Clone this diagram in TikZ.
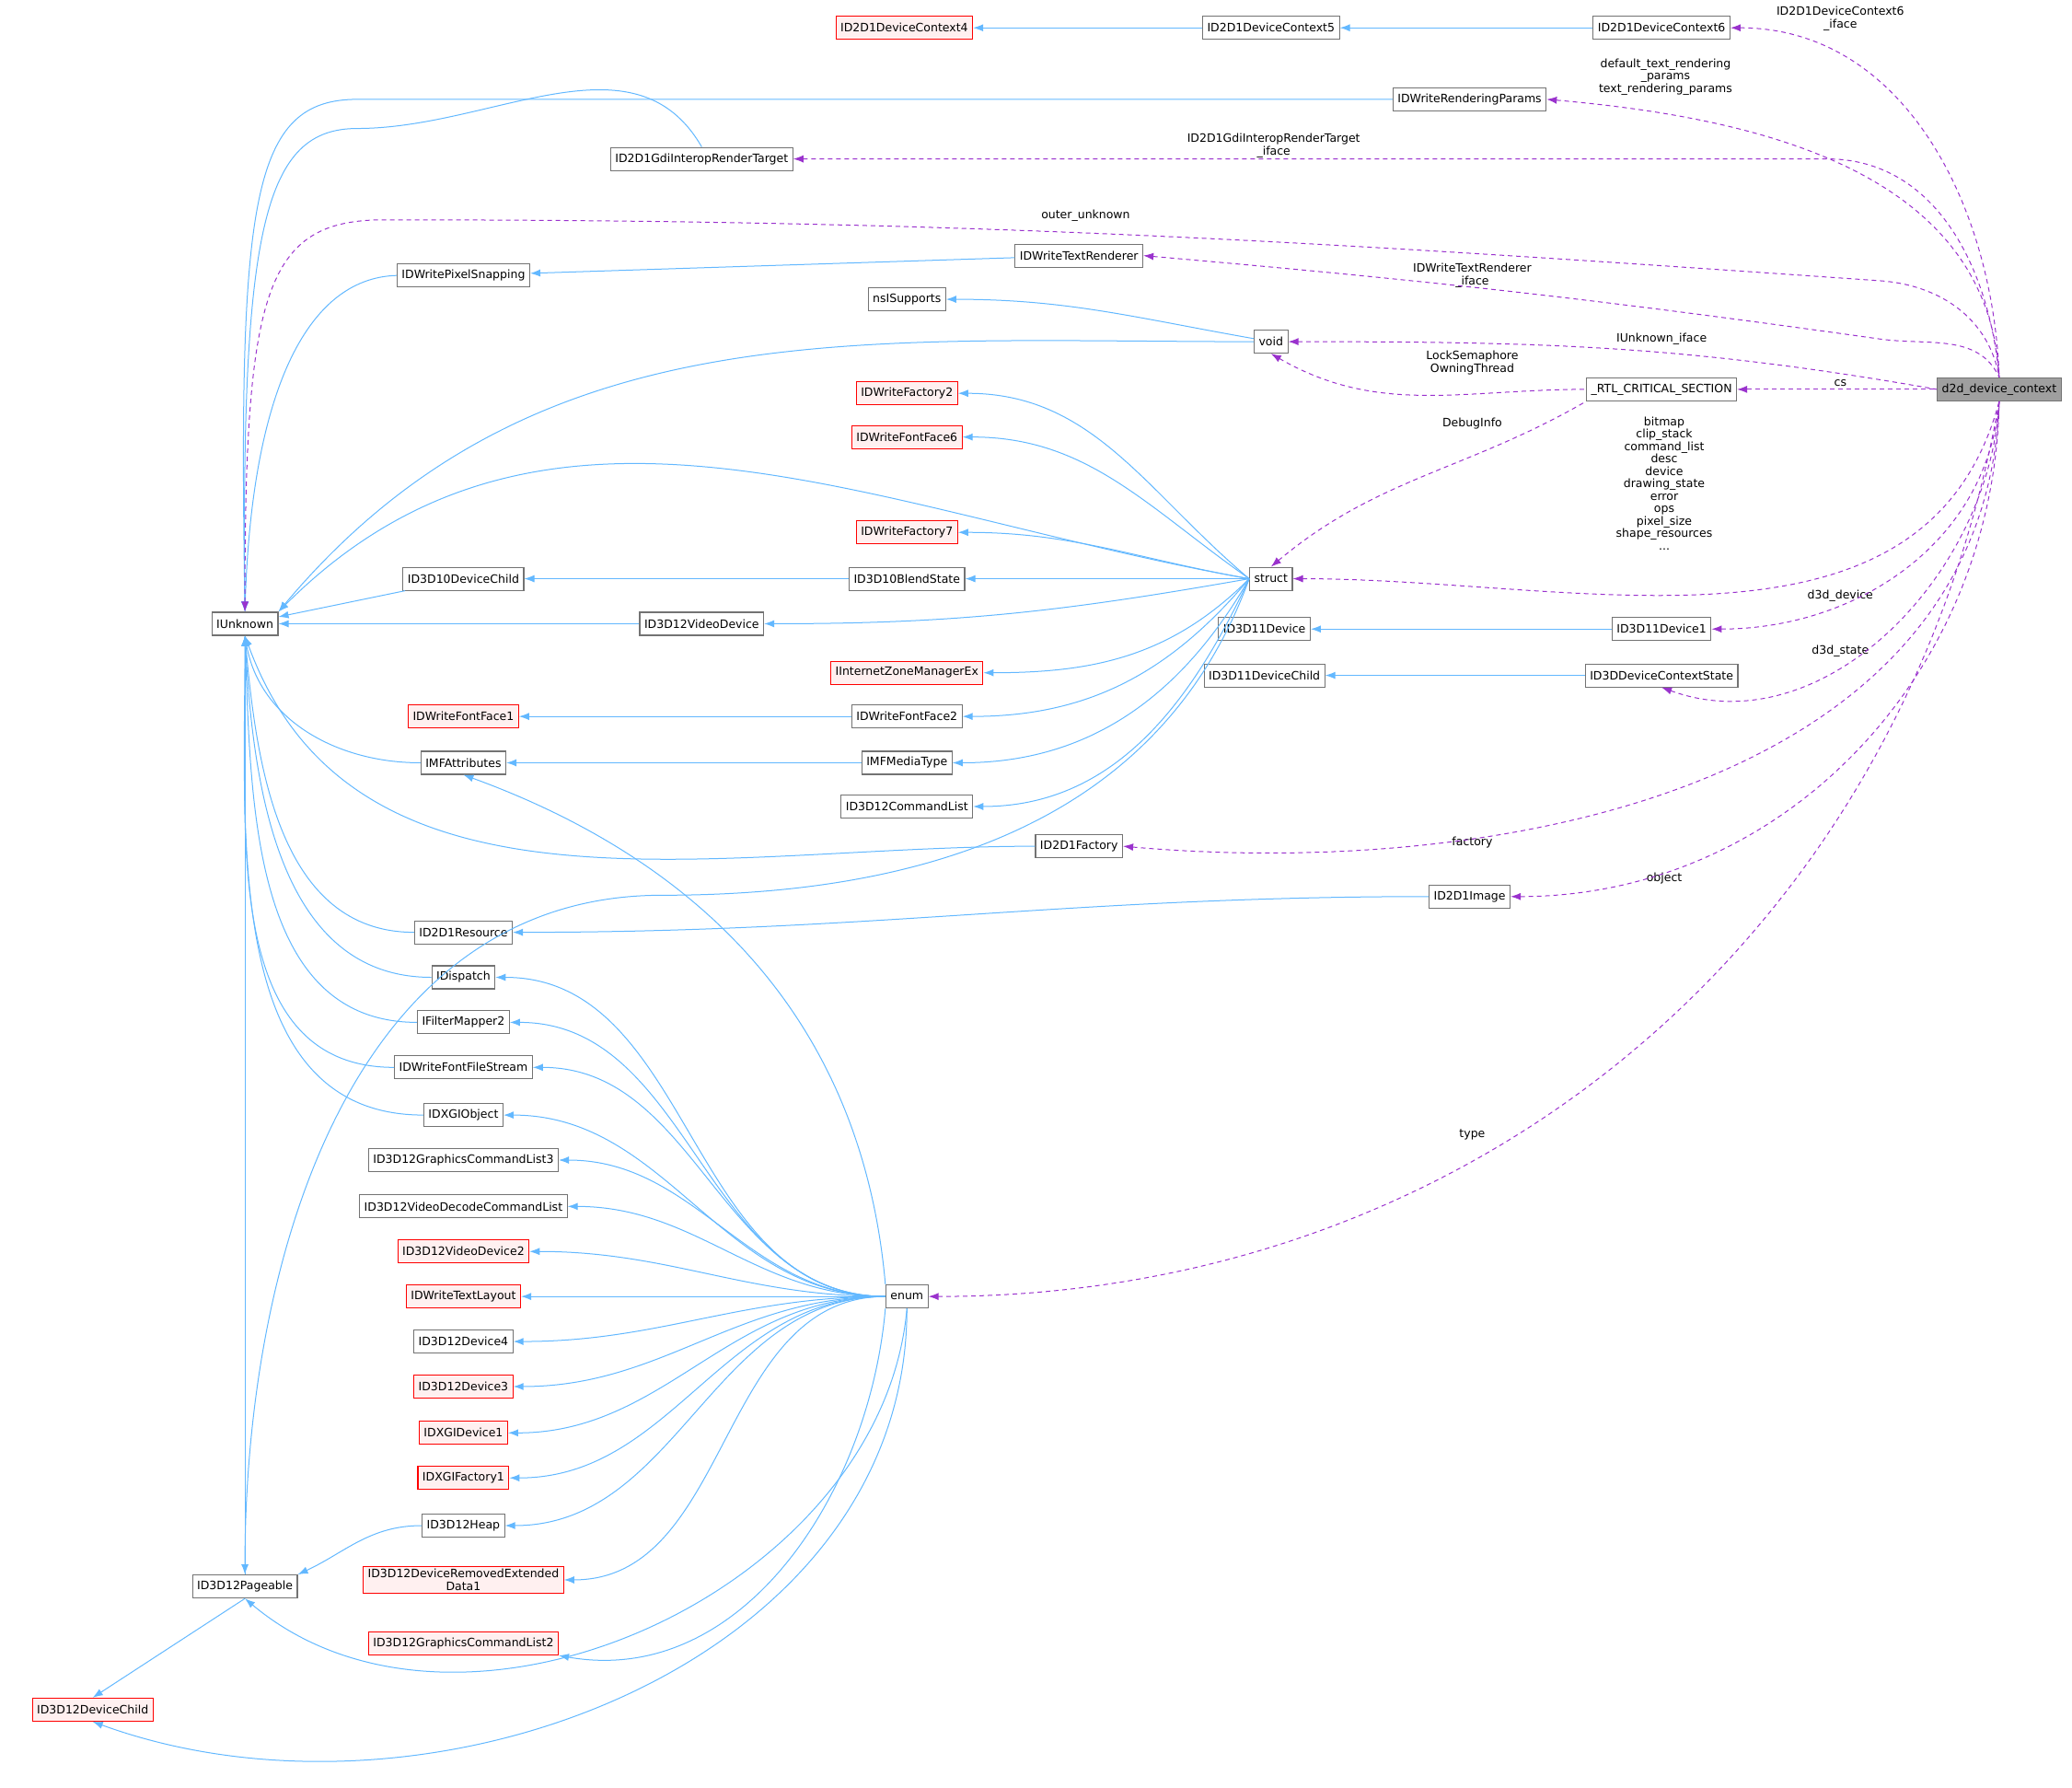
\documentclass[tikz,border=0pt]{standalone}
\usepackage{fontspec}
\setmainfont{DejaVu Sans}
\usetikzlibrary{arrows.meta}
\definecolor{inhblue}{HTML}{63B8FF}
\definecolor{usepurple}{HTML}{9A32CD}
\tikzstyle{cls} = [rectangle, draw=gray!90!black, fill=white, line width=0.55pt, text centered, align=center, minimum height=12.5pt, inner xsep=2.5pt, inner ysep=1.5pt, font=\fontsize{6.25}{7}\selectfont]
\tikzstyle{ext} = [cls, draw=red, fill=red!6]
\tikzstyle{main} = [cls, fill=gray!75]
\tikzstyle{inh} = [line width=0.5pt, draw=inhblue, {Latex[length=5.5pt,width=4pt]}-]
\tikzstyle{use} = [line width=0.5pt, draw=usepurple, dash pattern=on 2.5pt off 2pt, {Latex[length=5.5pt,width=4pt]}-]
\tikzstyle{lbl} = [align=center, font=\fontsize{6.25}{6.75}\selectfont, inner sep=0.5pt]

\begin{document}
\begin{tikzpicture}[x=0.719pt, y=-0.719pt]
        \useasboundingbox (0,0) rectangle (1565,1350);
        \node (d2d) [main] at (1510,294) {d2d\_device\_context};
        \node (dc6) [cls] at (1255,21) {ID2D1DeviceContext6};
        \node (dc5) [cls] at (960,21) {ID2D1DeviceContext5};
        \node (dc4) [ext] at (683,21) {ID2D1DeviceContext4};
        \node (rparams) [cls] at (1110,75) {IDWriteRenderingParams};
        \node (gdi) [cls] at (530,120) {ID2D1GdiInteropRenderTarget};
        \node (trender) [cls] at (815,193) {IDWriteTextRenderer};
        \node (psnap) [cls] at (350,208) {IDWritePixelSnapping};
        \node (nsi) [cls] at (685,226) {nsISupports};
        \node (void) [cls] at (960,258) {void};
        \node (rtl) [cls] at (1255,294) {\_RTL\_CRITICAL\_SECTION};
        \node (fac2) [ext] at (685,297) {IDWriteFactory2};
        \node (ff6) [ext] at (685,330) {IDWriteFontFace6};
        \node (fac7) [ext] at (685,402) {IDWriteFactory7};
        \node (struct) [cls] at (960,437) {struct};
        \node (d10child) [cls] at (350,437) {ID3D10DeviceChild};
        \node (blend) [cls] at (685,437) {ID3D10BlendState};
        \node (iunk) [cls] at (185,471) {IUnknown};
        \node (vdev) [cls] at (530,471) {ID3D12VideoDevice};
        \node (d11dev) [cls] at (955,475) {ID3D11Device};
        \node (d11dev1) [cls] at (1255,475) {ID3D11Device1};
        \node (d11child) [cls] at (955,510) {ID3D11DeviceChild};
        \node (dcstate) [cls] at (1255,510) {ID3DDeviceContextState};
        \node (izone) [ext] at (685,508) {IInternetZoneManagerEx};
        \node (ff1) [ext] at (350,541) {IDWriteFontFace1};
        \node (ff2) [cls] at (685,541) {IDWriteFontFace2};
        \node (mfattr) [cls] at (350,576) {IMFAttributes};
        \node (mftype) [cls] at (685,576) {IMFMediaType};
        \node (cmdlist) [cls] at (685,609) {ID3D12CommandList};
        \node (d2dfac) [cls] at (815,639) {ID2D1Factory};
        \node (image) [cls] at (1110,677) {ID2D1Image};
        \node (resource) [cls] at (350,704) {ID2D1Resource};
        \node (disp) [cls] at (350,738) {IDispatch};
        \node (filt) [cls] at (350,772) {IFilterMapper2};
        \node (ffstream) [cls] at (350,806) {IDWriteFontFileStream};
        \node (dxgiobj) [cls] at (350,842) {IDXGIObject};
        \node (gcl3) [cls] at (350,876) {ID3D12GraphicsCommandList3};
        \node (vdcl) [cls] at (350,911) {ID3D12VideoDecodeCommandList};
        \node (vdev2) [ext] at (350,945) {ID3D12VideoDevice2};
        \node (tlayout) [ext] at (350,979) {IDWriteTextLayout};
        \node (dev4) [cls] at (350,1013) {ID3D12Device4};
        \node (dev3) [ext] at (350,1047) {ID3D12Device3};
        \node (dxgidev1) [ext] at (350,1082) {IDXGIDevice1};
        \node (dxgifac1) [ext] at (350,1116) {IDXGIFactory1};
        \node (enum) [cls] at (685,979) {enum};
        \node (heap) [cls] at (350,1152) {ID3D12Heap};
        \node (dred) [ext] at (350,1193) {ID3D12DeviceRemovedExtended\\Data1};
        \node (gcl2) [ext] at (350,1241) {ID3D12GraphicsCommandList2};
        \node (pageable) [cls] at (185,1198) {ID3D12Pageable};
        \node (d12child) [ext] at (70,1291) {ID3D12DeviceChild};
        \coordinate (pagevia) at (500,676);
        \coordinate (outervia) at (290,166);
        \coordinate (outer2) at (1420,212);
        \coordinate (trvia) at (1420,256);
        \coordinate (gdivia) at (1380,120);
        \coordinate (rpvia) at (270,75);
        \coordinate (gdinv) at (270,97);
        % labels
        \node (l-dc6) [lbl] at (1390,14) {ID2D1DeviceContext6\\\_iface};
        \node (l-rp) [lbl] at (1258,58) {default\_text\_rendering\\\_params\\text\_rendering\_params};
        \node (l-gdi) [lbl] at (962,110) {ID2D1GdiInteropRenderTarget\\\_iface};
        \node (l-outer) [lbl] at (820,163) {outer\_unknown};
        \node (l-tr) [lbl] at (1112,208) {IDWriteTextRenderer\\\_iface};
        \node (l-iu) [lbl] at (1255,256) {IUnknown\_iface};
        \node (l-lock) [lbl] at (1112,274) {LockSemaphore\\OwningThread};
        \node (l-cs) [lbl] at (1390,289) {cs};
        \node (l-debug) [lbl] at (1112,320) {DebugInfo};
        \node (l-struct) [lbl] at (1257,365) {bitmap\\clip\_stack\\command\_list\\desc\\device\\drawing\_state\\error\\ops\\pixel\_size\\shape\_resources\\...};
        \node (l-d3d) [lbl] at (1390,450) {d3d\_device};
        \node (l-state) [lbl] at (1390,492) {d3d\_state};
        \node (l-fac) [lbl] at (1112,636) {factory};
        \node (l-obj) [lbl] at (1257,663) {object};
        \node (l-type) [lbl] at (1112,857) {type};
        % inheritance
        \draw [inh] (dc4) -- (dc5);
        \draw [inh] (dc5) -- (dc6);
        \draw [inh] (iunk.north) .. controls (180,150) and (190,75) .. (rpvia) -- (rparams.west);
        \draw [inh] (iunk.north) .. controls (182,170) and (200,97) .. (gdinv) to[out=0,in=120] (gdi.north);
        \draw [inh] (psnap) -- (trender);
        \draw [inh] (iunk.north) .. controls (190,300) and (230,210) .. (psnap.west);
        \draw [inh] (nsi) to[out=0,in=170] (void);
        \draw [inh] (iunk.north east) to[out=50,in=180] (void.west);
        \draw [inh] (fac2.east) to[out=0,in=140] (struct.west);
        \draw [inh] (ff6.east) to[out=0,in=145] (struct.west);
        \draw [inh] (iunk.north east) to[out=45,in=170] (struct.west);
        \draw [inh] (fac7.east) to[out=0,in=170] (struct.west);
        \draw [inh] (blend) -- (struct);
        \draw [inh] (vdev) to[out=0,in=190] (struct.west);
        \draw [inh] (izone.east) to[out=0,in=-135] (struct.west);
        \draw [inh] (ff2.east) to[out=0,in=-130] (struct.west);
        \draw [inh] (mftype.east) to[out=0,in=-120] (struct.west);
        \draw [inh] (cmdlist.east) to[out=0,in=-115] (struct.west);
        \draw [inh] (pageable.north) to[out=90,in=180] (pagevia) to[out=0,in=-110] (struct.west);
        \draw [inh] (d10child) -- (blend);
        \draw [inh] (iunk) -- (d10child);
        \draw [inh] (iunk) -- (vdev);
        \draw [inh] (d11dev) -- (d11dev1);
        \draw [inh] (d11child) -- (dcstate);
        \draw [inh] (ff1) -- (ff2);
        \draw [inh] (mfattr) -- (mftype);
        \draw [inh] (iunk.south) to[out=-80,in=180] (mfattr.west);
        \draw [inh] (iunk.south) to[out=-70,in=180] (d2dfac.west);
        \draw [inh] (resource) to[out=0,in=180] (image);
        \draw [inh] (iunk.south) to[out=-85,in=180] (resource.west);
        \draw [inh] (iunk.south) to[out=-87,in=180] (disp.west);
        \draw [inh] (iunk.south) to[out=-88,in=180] (filt.west);
        \draw [inh] (iunk.south) to[out=-89,in=180] (ffstream.west);
        \draw [inh] (iunk.south) to[out=-90,in=180] (dxgiobj.west);
        \draw [inh] (iunk.south) -- (pageable.north);
        \draw [inh] (mfattr.south) to[out=-20,in=95] (enum.north west);
        \foreach \n in {disp,filt,ffstream,dxgiobj,gcl3,vdcl,vdev2,tlayout,dev4,dev3,dxgidev1,dxgifac1,heap,dred}
            \draw [inh] (\n.east) to[out=0,in=180] (enum.west);
        \draw [inh] (gcl2.south east) to[out=-10,in=-95] (enum.south west);
        \draw [inh] (pageable.south) to[out=-40,in=-95] (enum.south);
        \draw [inh] (d12child.south) to[out=-20,in=-90] (enum.south);
        \draw [inh] (pageable.north east) to[out=25,in=180] (heap.west);
        \draw [inh] (d12child.north) -- (pageable.south);
        % usage
        \draw [use] (dc6.east) to[out=0,in=92] (d2d.north);
        \draw [use] (rparams.east) to[out=-5,in=93] (d2d.north);
        \draw [use] (gdi.east) -- (gdivia) to[out=0,in=95] (d2d.north);
        \draw [use] (iunk.north) .. controls (185,220) and (200,166) .. (outervia) to[out=0,in=176] (outer2) to[out=-4,in=100] (d2d.north);
        \draw [use] (trender.east) to[out=-5,in=172] (trvia) to[out=-8,in=115] (d2d.north);
        \draw [use] (void.east) to[out=0,in=170] (d2d.west);
        \draw [use] (rtl) -- (d2d);
        \draw [use] (void.south) to[out=-30,in=180] (rtl.west);
        \draw [use] (struct.north) to[out=40,in=-150] (rtl.south west);
        \draw [use] (struct.east) to[out=0,in=-105] (d2d.south);
        \draw [use] (d11dev1.east) to[out=0,in=-95] (d2d.south);
        \draw [use] (dcstate.south) to[out=-20,in=-93] (d2d.south);
        \draw [use] (d2dfac.east) to[out=-5,in=-92] (d2d.south);
        \draw [use] (image.east) to[out=0,in=-91] (d2d.south);
        \draw [use] (enum.east) to[out=0,in=-100] (d2d.south);
    \end{tikzpicture}
\end{document}
